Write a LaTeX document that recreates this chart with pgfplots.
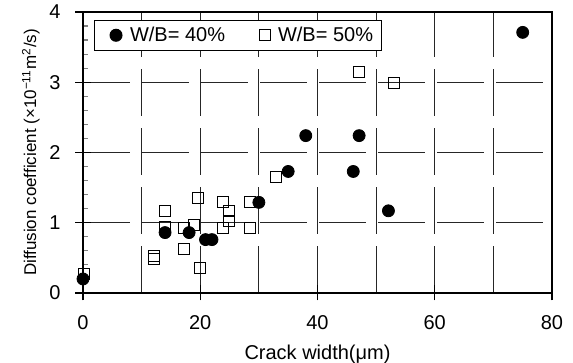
\documentclass[border=0pt]{standalone}
\usepackage{fontspec}
\setmainfont{Liberation Sans}
\usepackage{pgfplots}
\pgfplotsset{compat=1.18}

\begin{document}
\begin{tikzpicture}
\begin{axis}[
  scale only axis,
  width=234.5pt, height=140.5pt,
  xmin=0, xmax=80, ymin=0, ymax=4,
  xtick={0,20,...,80},
  minor xtick={10,30,50,70},
  ytick={0,1,2,3,4},
  minor y tick num=4,
  tick pos=left,
  tick align=center,
  major tick length=7.5pt,
  minor tick length=2.5pt,
  minor x tick style={draw=none},
  minor y tick style={xshift=1.25pt, line width=0.6pt},
  major tick style={line width=0.6pt, black},
  xmajorgrids, xminorgrids, ymajorgrids,
  major grid style={black!85, line width=0.5pt, dash pattern=on 23.5pt off 6pt},
  minor grid style={black!85, line width=0.5pt, dash pattern=on 23.5pt off 6pt},
  axis line style={line width=0.9pt},
  font=\fontsize{10}{12}\selectfont,
  /pgf/number format/assume math mode=true,
  xticklabel style={yshift=-4pt},
  yticklabel style={xshift=-4pt},
  xlabel={Crack width(μm)},
  ylabel={Diffusion coefficient (×10\textsuperscript{−11}m\textsuperscript{2}/s)},
  xlabel style={yshift=-1pt},
  ylabel style={yshift=-2pt, font=\fontsize{8.5}{10}\selectfont},
  legend columns=2,
  legend image code/.code={%
    \path (0pt,0pt);
    \draw[#1] plot coordinates {(8.5pt,0pt)};},
  legend style={at={(0.0235,0.9715)}, anchor=north west, draw=black,
    line width=0.5pt, inner xsep=2pt, inner ysep=1pt,
    font=\fontsize{10}{12}\selectfont,
    /tikz/every odd column/.append style={column sep=2pt},
    /tikz/every even column/.append style={column sep=9pt}},
  legend cell align=left,
]
% W/B = 40 %
\addplot[only marks, mark=*, mark size=3pt, black] coordinates {
  (0,0.20) (14.0,0.86) (18.1,0.86) (20.9,0.76) (22.0,0.76)
  (30.0,1.29) (35.0,1.73) (38.0,2.24) (47.1,2.24) (75.0,3.71)
  (46.1,1.73) (52.1,1.17)
};
\addlegendentry{W/B= 40\%}
% W/B = 50 %
\addplot[only marks, mark=square, mark size=2.75pt, black, line width=0.5pt] coordinates {
  (0.1,0.27) (14.0,1.17) (14.0,0.94) (12.1,0.48) (12.1,0.53)
  (17.3,0.62) (17.3,0.93) (19.0,0.97) (19.6,1.35) (19.9,0.36)
  (23.9,1.29) (23.9,0.92) (24.9,1.17) (24.9,1.03) (28.5,1.29)
  (28.5,0.92) (33.0,1.65) (47.1,3.14) (53.0,2.99)
};
\addlegendentry{W/B= 50\%}
\coordinate (bl) at (rel axis cs:0,0);
\coordinate (tr) at (rel axis cs:1,1);
\end{axis}
\pgfresetboundingbox
\path ([shift={(-41.5pt,-35pt)}]bl) rectangle ([shift={(10.5pt,6pt)}]tr);
\end{tikzpicture}
\end{document}
